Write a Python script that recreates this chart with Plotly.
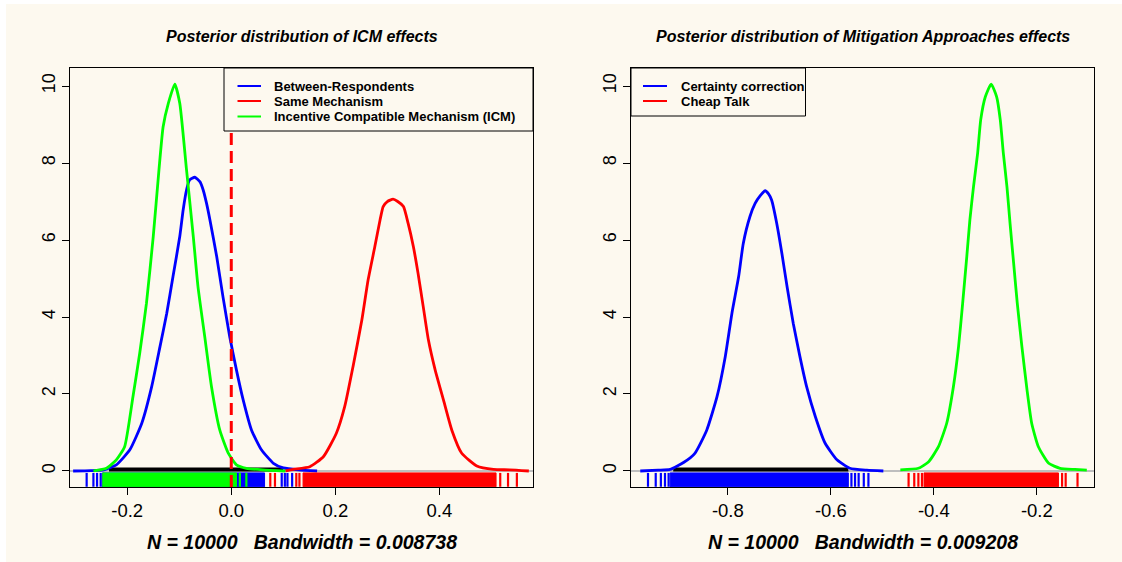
import plotly.graph_objects as go

# ------------------------------------------------------------------ data
# tick positions / labels
left_xticks = [-0.2, 0.0, 0.2, 0.4]
left_xticklabels = ["-0.2", "0.0", "0.2", "0.4"]
right_xticks = [-0.8, -0.6, -0.4, -0.2]
right_xticklabels = ["-0.8", "-0.6", "-0.4", "-0.2"]
yticks = [0, 2, 4, 6, 8, 10]
yticklabels = ["0", "2", "4", "6", "8", "10"]

# Left panel: posterior densities of ICM effects
between_x = [-0.304, -0.270, -0.245, -0.221, -0.195, -0.172, -0.153, -0.137, -0.124, -0.112,
             -0.099, -0.0925, -0.086, -0.080, -0.070, -0.060, -0.054, -0.0475, -0.041, -0.028,
             -0.016, -0.003, 0.010, 0.023, 0.039, 0.058, 0.081, 0.100, 0.130, 0.165]
between_y = [0.00, 0.01, 0.03, 0.16, 0.55, 1.24, 2.19, 3.23, 4.10, 5.05,
             6.09, 6.78, 7.30, 7.56, 7.63, 7.51, 7.30, 6.95, 6.52, 5.57,
             4.53, 3.49, 2.62, 1.84, 1.06, 0.55, 0.20, 0.08, 0.03, 0.00]

same_x = [0.104, 0.119, 0.151, 0.177, 0.202, 0.218, 0.234, 0.251, 0.263, 0.276,
          0.286, 0.292, 0.300, 0.311, 0.320, 0.331, 0.340, 0.350, 0.359, 0.369,
          0.379, 0.392, 0.408, 0.424, 0.443, 0.472, 0.504, 0.535, 0.572]
same_y = [0.00, 0.04, 0.11, 0.37, 0.98, 1.67, 2.71, 3.92, 4.96, 5.83,
          6.52, 6.87, 7.00, 7.06, 7.00, 6.87, 6.43, 5.83, 5.14, 4.27,
          3.40, 2.62, 1.84, 1.06, 0.46, 0.13, 0.04, 0.03, 0.00]

icm_x = [-0.265, -0.240, -0.221, -0.205, -0.189, -0.176, -0.163, -0.150, -0.139, -0.131,
         -0.121, -0.1085, -0.099, -0.086, -0.073, -0.064, -0.051, -0.038, -0.022, -0.006,
         0.010, 0.029, 0.060, 0.104]
icm_y = [0.00, 0.07, 0.29, 0.63, 1.93, 3.06, 4.36, 6.09, 7.82, 8.94,
         9.55, 10.05, 9.55, 7.82, 6.09, 4.79, 3.49, 2.19, 1.06, 0.47,
         0.16, 0.07, 0.03, 0.00]

# Right panel: posterior densities of mitigation approaches
certainty_x = [-0.970, -0.935, -0.912, -0.886, -0.864, -0.841, -0.821, -0.805, -0.792, -0.779,
               -0.770, -0.757, -0.747, -0.737, -0.7276, -0.721, -0.715, -0.705, -0.695, -0.685,
               -0.673, -0.660, -0.647, -0.630, -0.611, -0.588, -0.563, -0.530, -0.498]
certainty_y = [0.00, 0.02, 0.04, 0.22, 0.46, 1.06, 1.93, 2.97, 4.10, 5.05,
               5.91, 6.61, 6.95, 7.15, 7.28, 7.20, 7.04, 6.43, 5.65, 4.79,
               3.84, 2.97, 2.19, 1.41, 0.72, 0.29, 0.07, 0.02, 0.00]

cheap_x = [-0.465, -0.430, -0.410, -0.391, -0.375, -0.362, -0.352, -0.344, -0.336, -0.330,
           -0.323, -0.315, -0.309, -0.300, -0.2887, -0.278, -0.271, -0.265, -0.258, -0.252,
           -0.245, -0.238, -0.229, -0.219, -0.210, -0.197, -0.177, -0.155, -0.126, -0.103]
cheap_y = [0.03, 0.07, 0.24, 0.63, 1.24, 2.19, 3.23, 4.36, 5.57, 6.52,
           7.38, 8.25, 9.12, 9.72, 10.05, 9.72, 9.12, 8.25, 7.38, 6.43,
           5.39, 4.36, 3.23, 2.10, 1.24, 0.63, 0.20, 0.07, 0.04, 0.02]

# black segment lying on the zero line
left_black_seg = [-0.235, 0.100]
right_black_seg = [-0.906, -0.566]

# rugs: dense band [start, end] plus isolated ticks
between_rug_band = [-0.248, 0.064]
between_rug_ticks = [-0.278, -0.265, -0.258, -0.251, 0.097, 0.103, 0.108, 0.117]
same_rug_band = [0.138, 0.509]
same_rug_ticks = [0.075, 0.084, 0.125, 0.131, 0.517, 0.532, 0.549]
icm_rug_band = [-0.247, 0.010]
icm_rug_ticks = [0.0165, 0.029]

certainty_rug_band = [-0.912, -0.566]
certainty_rug_ticks = [-0.955, -0.940, -0.930, -0.922, -0.915, -0.560, -0.553, -0.546, -0.536, -0.527]
cheap_rug_band = [-0.419, -0.158]
cheap_rug_ticks = [-0.449, -0.438, -0.430, -0.423, -0.151, -0.144, -0.121]

left_legend_labels = ["Between-Respondents", "Same Mechanism", "Incentive Compatible Mechanism (ICM)"]
right_legend_labels = ["Certainty correction", "Cheap Talk"]

left_title = "Posterior distribution of ICM effects"
right_title = "Posterior distribution of Mitigation Approaches effects"
left_sub = "N = 10000   Bandwidth = 0.008738"
right_sub = "N = 10000   Bandwidth = 0.009208"

# ------------------------------------------------------------------ style
W, H = 1122, 562
BG = "#FDF9EF"
FONT = "Liberation Sans, Arial, sans-serif"
BLUE, RED, GREEN = "#0000FF", "#FF0000", "#00FF00"
LW = 2.8
YR = [-0.416, 10.468]
XR_L = [-0.310, 0.580]
XR_R = [-0.988, -0.089]
RUG_BOT, RUG_TOP = -0.41, -0.05
BAR_Y = 0.04


def fx(px):
    return px / W


def fy(py):
    return 1 - py / H


fig = go.Figure()


def curve(x, y, color, xa, ya):
    fig.add_trace(go.Scatter(x=x, y=y, mode="lines", xaxis=xa, yaxis=ya,
                             line=dict(color=color, width=LW, shape="spline", smoothing=0.5),
                             showlegend=False, hoverinfo="skip"))


def seg(a, b, xa, ya):
    fig.add_trace(go.Scatter(x=[a, b], y=[BAR_Y, BAR_Y], mode="lines", xaxis=xa, yaxis=ya,
                             line=dict(color="#000000", width=4), showlegend=False, hoverinfo="skip"))


def rug(band, ticks, color, xa, ya):
    a, b = band
    fig.add_trace(go.Scatter(x=[a, b, b, a, a], y=[RUG_BOT, RUG_BOT, RUG_TOP, RUG_TOP, RUG_BOT],
                             mode="lines", fill="toself", fillcolor=color, xaxis=xa, yaxis=ya,
                             line=dict(color=color, width=1), showlegend=False, hoverinfo="skip"))
    xs, ys = [], []
    for t in ticks:
        xs += [t, t, None]
        ys += [RUG_BOT, RUG_TOP, None]
    fig.add_trace(go.Scatter(x=xs, y=ys, mode="lines", xaxis=xa, yaxis=ya,
                             line=dict(color=color, width=2.2), showlegend=False, hoverinfo="skip"))


# left panel
seg(*left_black_seg, "x", "y")
curve(between_x, between_y, BLUE, "x", "y")
curve(same_x, same_y, RED, "x", "y")
curve(icm_x, icm_y, GREEN, "x", "y")
rug(between_rug_band, between_rug_ticks, BLUE, "x", "y")
rug(same_rug_band, same_rug_ticks, RED, "x", "y")
rug(icm_rug_band, icm_rug_ticks, GREEN, "x", "y")
fig.add_trace(go.Scatter(x=[0, 0], y=YR, mode="lines", xaxis="x", yaxis="y",
                         line=dict(color=RED, width=3, dash="12px,6px"),
                         showlegend=False, hoverinfo="skip"))

# right panel
seg(*right_black_seg, "x2", "y2")
curve(certainty_x, certainty_y, BLUE, "x2", "y2")
curve(cheap_x, cheap_y, GREEN, "x2", "y2")
rug(certainty_rug_band, certainty_rug_ticks, BLUE, "x2", "y2")
rug(cheap_rug_band, cheap_rug_ticks, RED, "x2", "y2")

axis_common = dict(ticks="outside", ticklen=7, tickwidth=1, tickcolor="#000000",
                   showline=True, mirror=True, linecolor="#000000", linewidth=1,
                   showgrid=False, fixedrange=True)
xfont = dict(family=FONT, size=18.5, color="#000000")
yfont = dict(family=FONT, size=18, color="#000000")
ydom = [fy(487), fy(68)]

fig.update_layout(
    width=W, height=H, autosize=False,
    margin=dict(l=0, r=0, t=0, b=0, pad=0),
    paper_bgcolor=BG, plot_bgcolor=BG,
    showlegend=False,
    xaxis=dict(domain=[fx(70), fx(533)], range=XR_L, tickvals=left_xticks, ticktext=left_xticklabels,
               tickfont=xfont, zeroline=False, anchor="y", **axis_common),
    yaxis=dict(domain=ydom, range=YR, tickvals=yticks, ticktext=yticklabels, tickangle=-90,
               ticklabelstandoff=0, tickfont=yfont,
               zeroline=True, zerolinecolor="#BEBEBE", zerolinewidth=1.5, anchor="x", **axis_common),
    xaxis2=dict(domain=[fx(631), fx(1094)], range=XR_R, tickvals=right_xticks, ticktext=right_xticklabels,
                tickfont=xfont, zeroline=False, anchor="y2", **axis_common),
    yaxis2=dict(domain=ydom, range=YR, tickvals=yticks, ticktext=yticklabels, tickangle=-90,
                ticklabelstandoff=0, tickfont=yfont,
                zeroline=True, zerolinecolor="#BEBEBE", zerolinewidth=1.5, anchor="x2", **axis_common),
)

shapes = [
    dict(type="rect", xref="paper", yref="paper", x0=0, x1=fx(6), y0=0, y1=1,
         fillcolor="#FFFFFF", line=dict(width=0), layer="below"),
    dict(type="rect", xref="paper", yref="paper", x0=0, x1=1, y0=fy(4), y1=1,
         fillcolor="#FFFFFF", line=dict(width=0), layer="below"),
]
annotations = []

title_font = dict(family=FONT, size=16, color="#000000", weight="bold", style="italic")
sub_font = dict(family=FONT, size=19.5, color="#000000", weight="bold", style="italic")
for cx, t, s in [(301.5, left_title, left_sub), (862.5, right_title, right_sub)]:
    annotations.append(dict(x=fx(cx), y=fy(37), xref="paper", yref="paper", text=t, showarrow=False,
                            xanchor="center", yanchor="middle", font=title_font))
    annotations.append(dict(x=fx(cx), y=fy(541.5), xref="paper", yref="paper", text=s, showarrow=False,
                            xanchor="center", yanchor="middle", font=sub_font))

legend_font = dict(family=FONT, size=13, color="#000000", weight="bold")


def legend(box, labels, colors, line_x, text_x, item_y):
    x0, y0, x1, y1 = box
    shapes.append(dict(type="rect", xref="paper", yref="paper", x0=fx(x0), x1=fx(x1), y0=fy(y1), y1=fy(y0),
                       fillcolor=BG, line=dict(color="#000000", width=1), layer="above"))
    for lab, col, yy in zip(labels, colors, item_y):
        shapes.append(dict(type="line", xref="paper", yref="paper", x0=fx(line_x[0]), x1=fx(line_x[1]),
                           y0=fy(yy), y1=fy(yy), line=dict(color=col, width=2), layer="above"))
        annotations.append(dict(x=fx(text_x), y=fy(yy), xref="paper", yref="paper", text=lab,
                                showarrow=False, xanchor="left", yanchor="middle", font=legend_font))


legend((224, 68, 533, 131), left_legend_labels, [BLUE, RED, GREEN], (237.5, 261), 272, [86, 101, 116.5])
legend((631, 68, 805.5, 116), right_legend_labels, [BLUE, RED], (643, 667), 679, [86, 101])

fig.update_layout(shapes=shapes, annotations=annotations)
fig.write_html(
    "out.html",
    config={"displayModeBar": False},
    post_script="document.body.style.margin='0px';document.body.style.overflow='hidden';",
)
